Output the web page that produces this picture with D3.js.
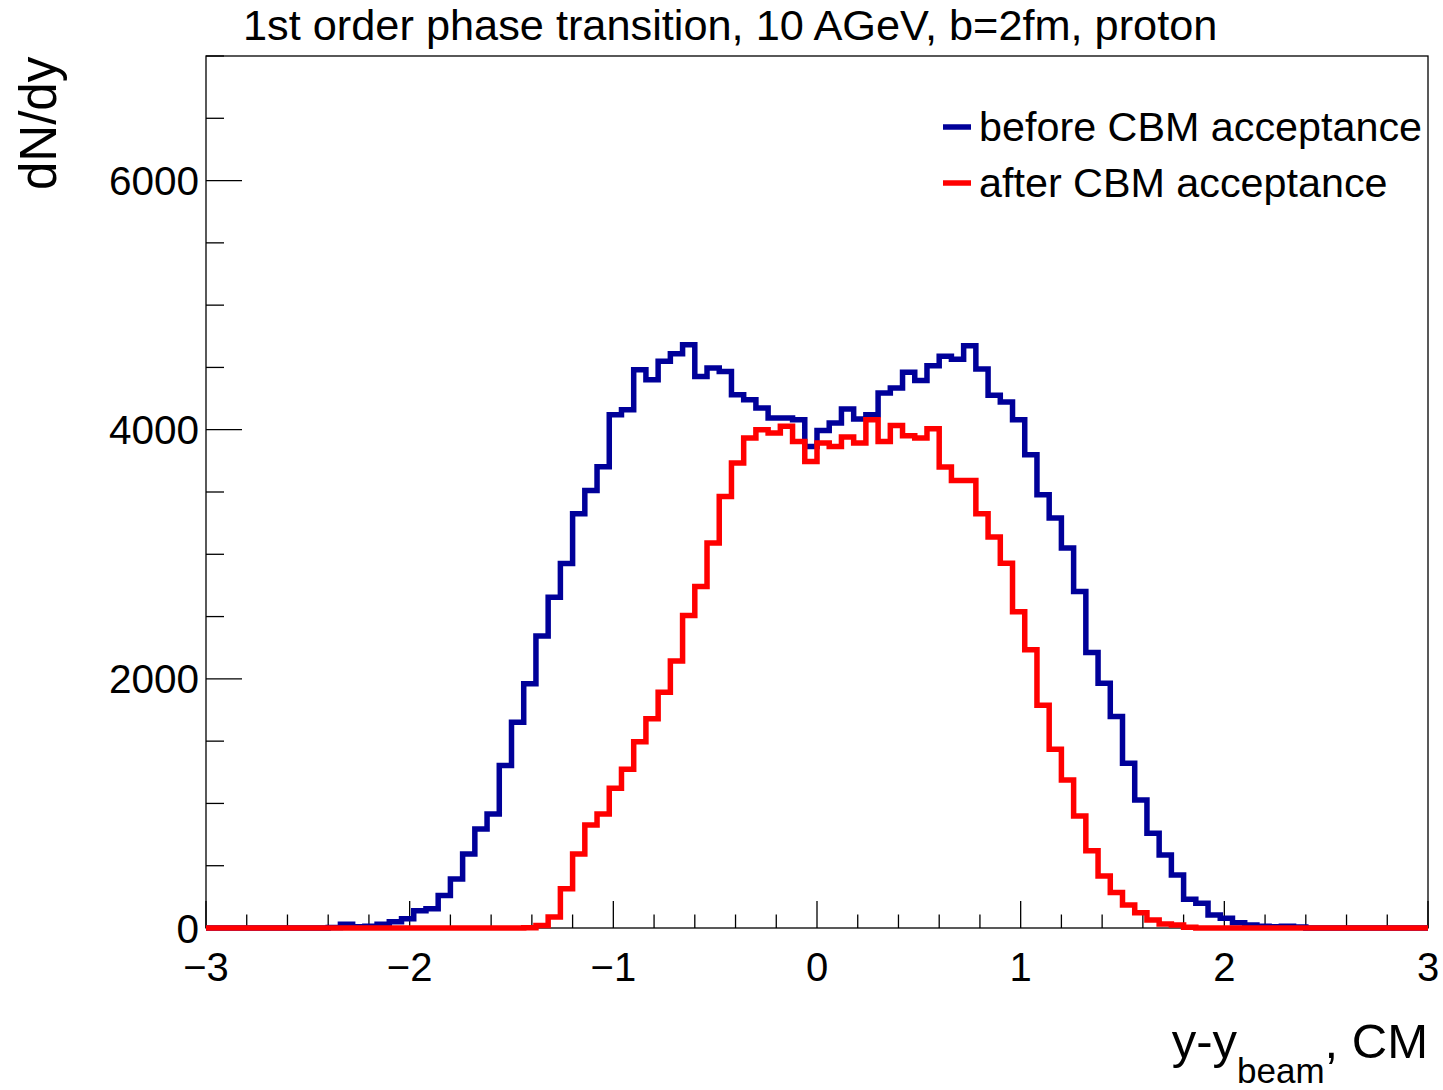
<!DOCTYPE html>
<html>
<head>
<meta charset="utf-8">
<script src="https://cdn.jsdelivr.net/npm/d3@7"></script>
<style>
  html, body { margin: 0; padding: 0; background: #fff; }
  svg { display: block; }
  text { font-family: "Liberation Sans", Arial, Helvetica, sans-serif; fill: #000; }
</style>
</head>
<body>
<svg id="chart" width="1443" height="1090"></svg>
<script>
// ---------- data ----------
const titleText = "1st order phase transition, 10 AGeV, b=2fm, proton";
const seriesNames = ["before CBM acceptance", "after CBM acceptance"];
const seriesColors = ["#000099", "#ff0000"];
const binRange = [-3, 3];        // histogram range
const nBins = 100;               // 100 bins of width 0.06

// dN/dy per bin, bin 0 = [-3.00,-2.94) ... bin 99 = [2.94,3.00)
const beforeValues = [
  0,0,0,0,0,0,0,0,0,0,
  5,30,10,15,30,50,75,139,155,260,
  394,594,795,916,1304,1652,1960,2345,2656,2926,
  3325,3513,3702,4120,4160,4482,4401,4549,4610,4683,
  4428,4496,4468,4281,4241,4174,4094,4094,4080,3866,
  3993,4054,4166,4086,4120,4295,4335,4461,4396,4514,
  4590,4565,4675,4487,4276,4222,4080,3799,3478,3291,
  3050,2701,2212,1965,1697,1323,1028,761,586,426,
  231,198,104,78,43,25,15,10,15,8,
  0,0,0,0,0,0,0,0,0,0
];
const afterValues = [
  0,0,0,0,0,0,0,0,0,0,
  0,0,0,0,0,0,0,0,0,0,
  0,0,0,0,0,0,3,20,88,315,
  594,827,916,1122,1275,1496,1679,1893,2144,2508,
  2741,3090,3464,3732,3933,4000,3973,4027,3906,3745,
  3893,3866,3941,3893,4080,3906,4034,3952,3933,4008,
  3700,3593,3593,3325,3138,2929,2538,2233,1788,1435,
  1189,900,621,418,284,185,123,64,32,24,
  6,0,0,0,0,0,0,0,0,0,
  0,0,0,0,0,0,0,0,0,0
];

const xMajorTicks = [-3, -2, -1, 0, 1, 2, 3];
const xTickLabels = ["\u22123", "\u22122", "\u22121", "0", "1", "2", "3"];
const yMajorTicks = [0, 2000, 4000, 6000];
const yTickLabels = ["0", "2000", "4000", "6000"];
const yDomain = [0, 7000];

// ---------- layout ----------
const frame = { left: 206, right: 1428, top: 56, bottom: 928 };
const svg = d3.select("#chart");

const x = d3.scaleLinear().domain(binRange).range([frame.left, frame.right]);
const y = d3.scaleLinear().domain(yDomain).range([frame.bottom, frame.top]);

const binWidth = (binRange[1] - binRange[0]) / nBins;
function histPoints(vals) {
  const pts = vals.map((v, i) => [binRange[0] + i * binWidth, v]);
  pts.push([binRange[1], vals[vals.length - 1]]);
  return pts;
}

// frame
svg.append("rect")
  .attr("x", frame.left).attr("y", frame.top)
  .attr("width", frame.right - frame.left).attr("height", frame.bottom - frame.top)
  .attr("fill", "none").attr("stroke", "#000").attr("stroke-width", 1.3);

// x ticks (inside, upward)
const xMinor = d3.range(-3, 3.0001, 0.2).map(v => +v.toFixed(2));
svg.append("g").selectAll("line").data(xMinor).join("line")
  .attr("x1", d => x(d)).attr("x2", d => x(d))
  .attr("y1", frame.bottom)
  .attr("y2", d => frame.bottom - (xMajorTicks.some(m => Math.abs(m - d) < 1e-6) ? 27 : 13.5))
  .attr("stroke", "#000").attr("stroke-width", 1.3);

// y ticks (inside, rightwards)
const yMinor = d3.range(0, 7000.1, 500);
svg.append("g").selectAll("line").data(yMinor).join("line")
  .attr("y1", d => y(d)).attr("y2", d => y(d))
  .attr("x1", frame.left)
  .attr("x2", d => frame.left + (d % 2000 === 0 ? 36 : 18))
  .attr("stroke", "#000").attr("stroke-width", 1.3);

// tick labels
svg.append("g").selectAll("text").data(xMajorTicks).join("text")
  .attr("x", d => x(d)).attr("y", 981)
  .attr("text-anchor", "middle").attr("font-size", 40)
  .text((d, i) => xTickLabels[i]);

svg.append("g").selectAll("text").data(yMajorTicks).join("text")
  .attr("x", 199).attr("y", d => y(d) + 14.5)
  .attr("text-anchor", "end").attr("font-size", 40.5)
  .text((d, i) => yTickLabels[i]);

// histograms
const line = d3.line()
  .x(d => x(d[0])).y(d => y(d[1]))
  .curve(d3.curveStepAfter);

[beforeValues, afterValues].forEach((vals, k) => {
  svg.append("path")
    .datum(histPoints(vals))
    .attr("d", line)
    .attr("fill", "none")
    .attr("stroke", seriesColors[k])
    .attr("stroke-width", 5.5)
    .attr("stroke-linejoin", "miter")
    .attr("stroke-linecap", "butt");
});

// title
svg.append("text")
  .attr("x", 243).attr("y", 40)
  .attr("font-size", 43.3)
  .text(titleText);

// y axis title
svg.append("text")
  .attr("transform", "translate(56,190) rotate(-90)")
  .attr("font-size", 51)
  .text("dN/dy");

// x axis title with subscript
const xt = svg.append("text")
  .attr("x", 1428).attr("y", 1058)
  .attr("text-anchor", "end")
  .attr("font-size", 49);
xt.append("tspan").text("y-y");
xt.append("tspan").attr("font-size", 35).attr("dy", 25).text("beam");
xt.append("tspan").attr("dy", -25).text(", CM");

// legend
const legendY = [127, 183];
seriesNames.forEach((name, k) => {
  svg.append("line")
    .attr("x1", 943).attr("x2", 971)
    .attr("y1", legendY[k]).attr("y2", legendY[k])
    .attr("stroke", seriesColors[k]).attr("stroke-width", 5.5);
  svg.append("text")
    .attr("x", 979).attr("y", legendY[k] + 14)
    .attr("font-size", 41.3)
    .text(name);
});
</script>
</body>
</html>
